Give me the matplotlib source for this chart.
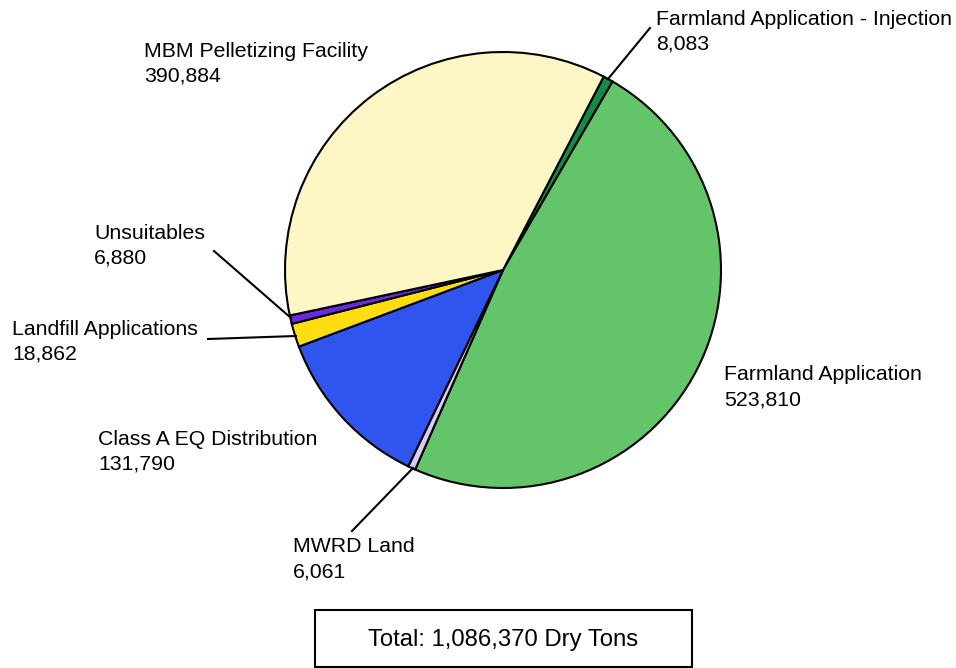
import matplotlib.pyplot as plt
from matplotlib.patches import Rectangle

plt.rcParams['font.family'] = ['Liberation Sans', 'DejaVu Sans']

# slices, clockwise from the top
labels = ['Farmland Application - Injection', 'Farmland Application', 'MWRD Land',
          'Class A EQ Distribution', 'Landfill Applications', 'Unsuitables',
          'MBM Pelletizing Facility']
tons = [8083, 523810, 6061, 131790, 18862, 6880, 390884]
colors = ['#138a45', '#63c469', '#d8ccf0', '#2f55ee', '#ffdd11', '#6a2be0', '#fff6c6']
total_text = 'Total: 1,086,370 Dry Tons'

W, H = 956, 668
fig = plt.figure(figsize=(W / 100, H / 100), dpi=100)
ax = fig.add_axes([0, 0, 1, 1])

def Y(py):
    # pixel row (from top) -> axes y
    return H - py

ax.pie(tons, colors=colors, startangle=62.5, counterclock=False,
       center=(503, Y(270)), radius=218, frame=True,
       wedgeprops=dict(edgecolor='black', linewidth=1.5))

ax.set_xlim(0, W)
ax.set_ylim(0, H)
ax.set_aspect('equal')
ax.axis('off')

# label text: (x, baseline of first line), leader line ends
lab_pos = [(656, 25), (724, 380), (293, 552), (98, 445), (12, 335), (94, 239), (144, 57)]
leaders = [((608, 79), (650, 28)), None, ((413, 468), (352, 531)), None,
           ((296, 336), (208, 339)), ((291, 318), (214, 251)), None]

for name, val, (x, y), ld in zip(labels, tons, lab_pos, leaders):
    ax.text(x, Y(y), name, fontsize=15.3, ha='left', va='baseline')
    ax.text(x, Y(y + 25), f'{val:,}', fontsize=15.3, ha='left', va='baseline')
    if ld is not None:
        (x0, y0), (x1, y1) = ld
        ax.plot([x0, x1], [Y(y0), Y(y1)], color='black', lw=1.5)

# total box
ax.add_patch(Rectangle((315, Y(667)), 377, 57, fill=False, edgecolor='black', lw=1.5))
ax.text(368, Y(646), total_text, fontsize=17.2, ha='left', va='baseline')

fig.savefig('out.png', dpi=100, facecolor='white')
